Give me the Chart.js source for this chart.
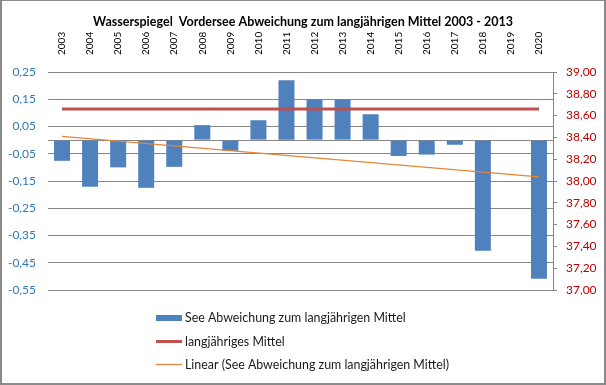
<!DOCTYPE html>
<html>
<head>
<meta charset="utf-8">
<script src="https://cdn.jsdelivr.net/npm/chart.js@4/dist/chart.umd.min.js"></script>
<style>
    body { margin: 0; background: #fff; }
</style>
</head>
<body>
<canvas id="chart" width="606" height="385"></canvas>
<script>
const years = ["2003", "2004", "2005", "2006", "2007", "2008", "2009", "2010", "2011",
    "2012", "2013", "2014", "2015", "2016", "2017", "2018", "2019", "2020"];
const abweichung = [-0.076, -0.171, -0.100, -0.175, -0.098, 0.055, -0.039, 0.073, 0.220,
    0.149, 0.149, 0.095, -0.058, -0.053, -0.017, -0.406, null, -0.509];
const mittel = [38.66, 38.66, 38.66, 38.66, 38.66, 38.66, 38.66, 38.66, 38.66,
    38.66, 38.66, 38.66, 38.66, 38.66, 38.66, 38.66, 38.66, 38.66];
const trend = [0.014, null, null, null, null, null, null, null, null,
    null, null, null, null, null, null, null, null, -0.135];
const leftTicks = [0.25, 0.15, 0.05, 0, -0.05, -0.15, -0.25, -0.35, -0.45, -0.55];
const rightTicks = [39.0, 38.9, 38.8, 38.7, 38.6, 38.5, 38.4, 38.3, 38.2, 38.1, 38.0,
    37.9, 37.8, 37.7, 37.6, 37.5, 37.4, 37.3, 37.2, 37.1, 37.0];

const FONT = "Lato";
const comma = (v) => v.toFixed(2).replace(".", ",");

// frame around the whole picture
const framePlugin = {
    id: "frame",
    beforeDraw(chart) {
        const { ctx, width, height } = chart;
        ctx.save();
        ctx.fillStyle = "#fff";
        ctx.fillRect(0, 0, width, height);
        ctx.fillStyle = "#8a8a8a";
        ctx.fillRect(0, 0, 2, height);
        ctx.fillRect(0, 0, width, 1);
        ctx.fillRect(width - 2, 0, 2, height);
        ctx.fillRect(0, height - 2, width, 2);
        ctx.restore();
    },
};

// legend stacked in rows under the plot
const stackedLegend = {
    id: "stackedLegend",
    afterDraw(chart) {
        const { ctx } = chart;
        const rows = [318, 341.5, 364.5];
        ctx.save();
        ctx.font = "12.4px " + FONT;
        ctx.textBaseline = "middle";
        ctx.textAlign = "left";
        chart.data.datasets.forEach((ds, i) => {
            const y = rows[i];
            if (ds.type === "bar") {
                ctx.fillStyle = ds.backgroundColor;
                ctx.fillRect(156, y - 3, 26, 6);
            } else {
                ctx.strokeStyle = ds.borderColor;
                ctx.lineWidth = ds.borderWidth;
                ctx.beginPath();
                ctx.moveTo(156, y);
                ctx.lineTo(182, y);
                ctx.stroke();
            }
            ctx.fillStyle = "#1a1a1a";
            ctx.fillText(ds.label, 185, y);
        });
        ctx.restore();
    },
};

new Chart(document.getElementById("chart"), {
    data: {
        labels: years,
        datasets: [
            {
                type: "bar",
                label: "See Abweichung zum langjährigen Mittel",
                data: abweichung,
                backgroundColor: "#4f81bd",
                categoryPercentage: 1,
                barPercentage: 0.57,
                yAxisID: "y",
                order: 3,
            },
            {
                type: "line",
                label: "langjähriges Mittel",
                data: mittel,
                borderColor: "#c0504d",
                borderWidth: 3,
                pointRadius: 0,
                yAxisID: "y1",
                order: 2,
            },
            {
                type: "line",
                label: "Linear (See Abweichung zum langjährigen Mittel)",
                data: trend,
                borderColor: "#e3873a",
                borderWidth: 1.2,
                pointRadius: 0,
                spanGaps: true,
                yAxisID: "y",
                order: 1,
            },
        ],
    },
    options: {
        responsive: false,
        animation: false,
        layout: { padding: { left: 0, right: 0, top: 0, bottom: 95 } },
        scales: {
            x: {
                type: "category",
                position: "top",
                offset: true,
                grid: { display: false },
                border: { display: false },
                ticks: {
                    minRotation: 90,
                    maxRotation: 90,
                    autoSkip: false,
                    padding: 9,
                    labelOffset: 12,
                    color: "#000",
                    font: { family: FONT, size: 10 },
                },
                afterFit: (scale) => { scale.height = 42; },
            },
            y: {
                position: "left",
                min: -0.55,
                max: 0.25,
                afterBuildTicks: (scale) => { scale.ticks = leftTicks.map((v) => ({ value: v })); },
                grid: { color: "#868686", drawTicks: false },
                border: { display: false },
                ticks: {
                    padding: 12,
                    color: "#3179b8",
                    font: { family: FONT, size: 12 },
                    callback: (v) => (v === 0 ? "" : comma(v)),
                },
                afterFit: (scale) => { scale.width = 48; },
            },
            y1: {
                position: "right",
                min: 37,
                max: 39,
                afterBuildTicks: (scale) => { scale.ticks = rightTicks.map((v) => ({ value: v })); },
                grid: { drawOnChartArea: false, tickLength: 4, tickColor: "#868686" },
                border: { display: true, color: "#868686" },
                ticks: {
                    padding: 9,
                    color: "#c00000",
                    font: { family: FONT, size: 12 },
                    callback: (v) => comma(v),
                },
                afterFit: (scale) => { scale.width = 53; },
            },
        },
        plugins: {
            legend: { display: false },
            tooltip: { enabled: false },
            title: {
                display: true,
                text: "Wasserspiegel  Vordersee Abweichung zum langjährigen Mittel 2003 - 2013",
                color: "#000",
                font: { family: FONT, size: 12.5, weight: "bold", lineHeight: "16px" },
                padding: { top: 14, bottom: 0 },
            },
        },
    },
    plugins: [framePlugin, stackedLegend],
});
</script>
</body>
</html>
